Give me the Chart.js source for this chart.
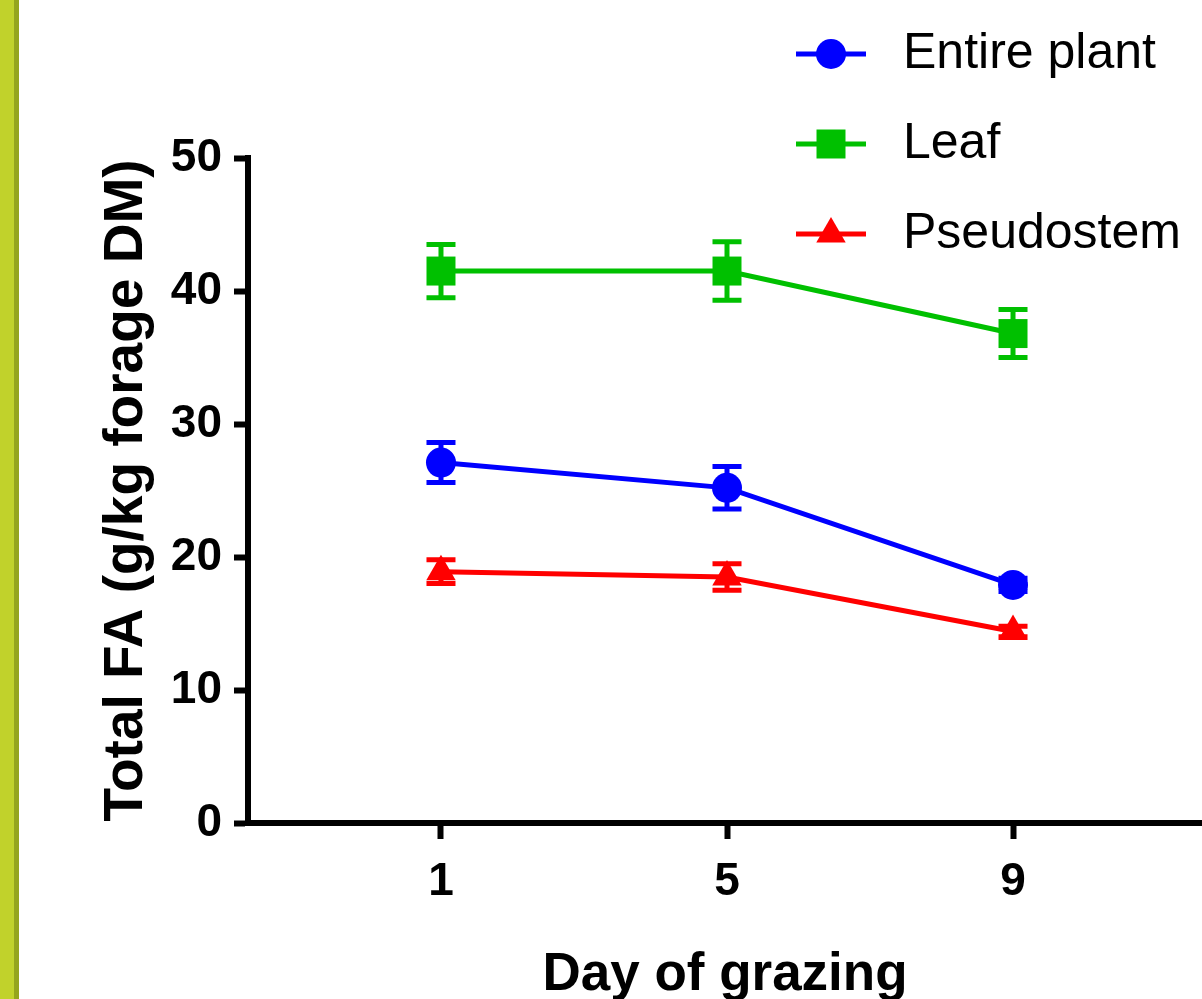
<!DOCTYPE html>
<html>
<head>
<meta charset="utf-8">
<script src="https://cdn.jsdelivr.net/npm/chart.js@4/dist/chart.umd.min.js"></script>
<style>
  html, body { margin: 0; padding: 0; background: #ffffff; }
  #wrap { position: relative; width: 1202px; height: 999px; overflow: hidden; }
  #barA { position: absolute; left: 0; top: 0; width: 14px; height: 999px; background: #c1d22b; }
  #barB { position: absolute; left: 14px; top: 0; width: 5px; height: 999px; background: #95a51d; }
  #c { position: absolute; left: 0; top: 0; }
</style>
</head>
<body>
<div id="wrap">
  <div id="barA"></div><div id="barB"></div>
  <canvas id="c" width="1202" height="999"></canvas>
</div>
<script>
// ---- data ----
const days = [1, 5, 9];
const seriesNames = ['Entire plant', 'Leaf', 'Pseudostem'];
const entirePlant = [27.1, 25.2, 17.9];
const entirePlantErr = [1.5, 1.6, 0.5];
const leaf = [41.5, 41.5, 36.8];
const leafErr = [2.0, 2.2, 1.8];
const pseudostem = [18.9, 18.5, 14.4];
const pseudostemErr = [0.9, 1.0, 0.4];
const yTicks = [0, 10, 20, 30, 40, 50];
const xTitle = 'Day of grazing';
const yTitle = 'Total FA (g/kg forage DM)';

const FONT = "'Liberation Sans', Arial, Helvetica, sans-serif";
const colors = ['#0000ff', '#00c000', '#ff0000'];
const styles = ['circle', 'rect', 'triangle'];
const radii = [15, 20.5, 17];
const values = [entirePlant, leaf, pseudostem];
const errors = [entirePlantErr, leafErr, pseudostemErr];

function toPoints(arr) { return days.map((d, i) => ({ x: d, y: arr[i] })); }

const datasets = seriesNames.map((name, k) => ({
  label: name,
  data: toPoints(values[k]),
  errors: errors[k],
  borderColor: colors[k],
  backgroundColor: colors[k],
  borderWidth: 5,
  pointStyle: styles[k],
  pointRadius: radii[k],
  pointHoverRadius: radii[k],
  pointBorderWidth: 0,
  pointBackgroundColor: colors[k],
  tension: 0
}));

const errorBarPlugin = {
  id: 'errorBars',
  afterDatasetsDraw(chart) {
    const ctx = chart.ctx;
    const ys = chart.scales.y;
    chart.data.datasets.forEach((ds, i) => {
      const meta = chart.getDatasetMeta(i);
      meta.data.forEach((pt, j) => {
        const v = ds.data[j].y, e = ds.errors[j];
        const yTop = ys.getPixelForValue(v + e);
        const yBot = ys.getPixelForValue(v - e);
        const x = pt.x;
        ctx.save();
        ctx.strokeStyle = ds.borderColor;
        ctx.lineWidth = 5;
        ctx.beginPath();
        ctx.moveTo(x, yTop); ctx.lineTo(x, yBot);
        ctx.moveTo(x - 14.5, yTop); ctx.lineTo(x + 14.5, yTop);
        ctx.moveTo(x - 14.5, yBot); ctx.lineTo(x + 14.5, yBot);
        ctx.stroke();
        ctx.restore();
      });
    });
  }
};

function drawMarker(ctx, style, x, y, r, color) {
  ctx.fillStyle = color;
  ctx.beginPath();
  if (style === 'circle') {
    ctx.arc(x, y, r, 0, Math.PI * 2);
  } else if (style === 'rect') {
    const s = Math.SQRT1_2 * r;
    ctx.rect(x - s, y - s, 2 * s, 2 * s);
  } else {
    const a = 2 * Math.PI / 3;
    ctx.moveTo(x, y - r);
    ctx.lineTo(x + Math.sin(a) * r, y - Math.cos(a) * r);
    ctx.lineTo(x + Math.sin(2 * a) * r, y - Math.cos(2 * a) * r);
    ctx.closePath();
  }
  ctx.fill();
}

const legendPlugin = {
  id: 'customLegend',
  afterDraw(chart) {
    const ctx = chart.ctx;
    const rowY = [54, 144, 234];
    chart.data.datasets.forEach((ds, i) => {
      const y = rowY[i];
      ctx.save();
      ctx.strokeStyle = ds.borderColor;
      ctx.lineWidth = 5;
      ctx.beginPath();
      ctx.moveTo(796, y); ctx.lineTo(866, y);
      ctx.stroke();
      drawMarker(ctx, ds.pointStyle, 831, y, ds.pointRadius, ds.borderColor);
      ctx.fillStyle = '#000';
      ctx.font = '50px ' + FONT;
      ctx.textAlign = 'left';
      ctx.textBaseline = 'middle';
      ctx.fillText(ds.label, 903, y);
      ctx.restore();
    });
  }
};

new Chart(document.getElementById('c'), {
  type: 'line',
  data: { datasets },
  plugins: [errorBarPlugin, legendPlugin],
  options: {
    responsive: false,
    animation: false,
    events: [],
    layout: { autoPadding: false, padding: { top: 158, left: 0, right: 0, bottom: 0 } },
    plugins: { legend: { display: false }, tooltip: { enabled: false } },
    scales: {
      x: {
        type: 'linear',
        min: -1.699,
        max: 11.643,
        afterFit(s) { s.height = 176; },
        afterBuildTicks(s) { s.ticks = days.map(d => ({ value: d })); },
        grid: { display: true, drawOnChartArea: false, drawTicks: true, tickLength: 16, tickWidth: 6, tickColor: '#000' },
        border: { display: true, width: 6, color: '#000' },
        ticks: { color: '#000', padding: 16, font: { family: FONT, size: 46, weight: 'bold' }, maxRotation: 0, autoSkip: false },
        title: { display: true, text: xTitle, color: '#000', font: { family: FONT, size: 53, weight: 'bold', lineHeight: 0.9 }, padding: { top: 0, bottom: 0 } }
      },
      y: {
        type: 'linear',
        min: 0,
        max: 50,
        afterFit(s) { s.width = 248; },
        afterBuildTicks(s) { s.ticks = yTicks.map(v => ({ value: v })); },
        grid: { display: true, drawOnChartArea: false, drawTicks: true, tickLength: 14, tickWidth: 6, tickColor: '#000' },
        border: { display: true, width: 6, color: '#000' },
        ticks: { color: '#000', padding: 12, font: { family: FONT, size: 46, weight: 'bold' } },
        title: { display: true, text: yTitle, color: '#000', font: { family: FONT, size: 55, weight: 'bold', lineHeight: 1.2 }, padding: { top: 94, bottom: 0 } }
      }
    }
  }
});
</script>
</body>
</html>
